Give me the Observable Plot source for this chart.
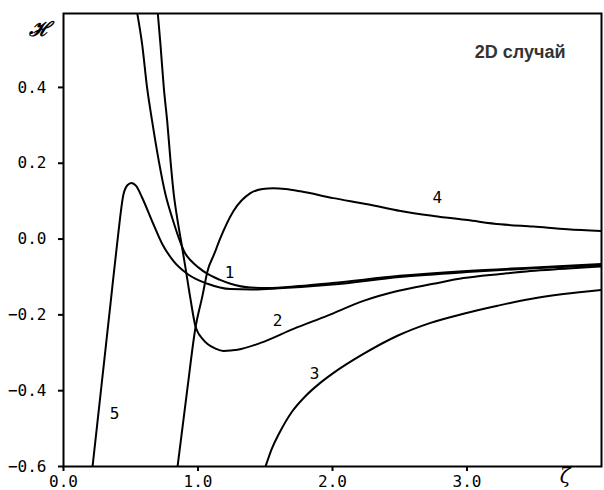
<!DOCTYPE html>
<html><head><meta charset="utf-8">
<script src="https://cdn.jsdelivr.net/npm/d3@7"></script>
<script src="https://cdn.jsdelivr.net/npm/@observablehq/plot@0.6"></script>
<style>body{margin:0;background:#fff}</style>
</head><body><div id="chart"></div>
<script>
// Curve 1
const zeta1 = [0.548,0.585,0.622,0.659,0.709,0.758,0.808,0.857,0.90,0.95,1.0,1.071,1.16,1.242,1.39,1.52,1.75,2.0,2.5,3.0,3.5,4.0];
const h1    = [0.596,0.513,0.398,0.311,0.205,0.118,0.056,0.003,-0.035,-0.058,-0.074,-0.092,-0.107,-0.118,-0.128,-0.129,-0.124,-0.116,-0.097,-0.084,-0.075,-0.066];
// Curve 2
const zeta2 = [0.701,0.721,0.746,0.771,0.796,0.820,0.845,0.870,0.907,0.944,0.981,1.005,1.03,1.071,1.13,1.19,1.294,1.465,1.71,1.963,2.23,2.483,2.75,2.974,3.25,3.472,3.75,4.0];
const h2    = [0.596,0.513,0.398,0.311,0.205,0.118,0.056,0.003,-0.076,-0.158,-0.230,-0.250,-0.262,-0.277,-0.289,-0.295,-0.292,-0.274,-0.237,-0.202,-0.163,-0.137,-0.118,-0.103,-0.092,-0.084,-0.078,-0.072];
// Curve 3
const zeta3 = [1.502,1.55,1.6,1.7,1.8,1.9,2.0,2.23,2.483,2.729,2.974,3.227,3.472,3.717,4.0];
const h3    = [-0.600,-0.552,-0.515,-0.455,-0.414,-0.382,-0.355,-0.303,-0.255,-0.221,-0.197,-0.176,-0.158,-0.145,-0.134];
// Curve 4
const zeta4 = [0.848,0.922,0.981,1.033,1.071,1.12,1.167,1.264,1.39,1.48,1.561,1.65,1.762,2.007,2.26,2.506,2.751,3.004,3.249,3.494,3.747,4.0];
const h4    = [-0.600,-0.392,-0.234,-0.150,-0.084,-0.040,0.003,0.074,0.121,0.132,0.134,0.132,0.126,0.108,0.092,0.074,0.061,0.050,0.039,0.033,0.026,0.021];
// Curve 5
const zeta5 = [0.216,0.25,0.30,0.35,0.401,0.446,0.475,0.505,0.54,0.585,0.659,0.734,0.818,0.922,1.071,1.242,1.40,1.6,2.0,2.5,3.0,3.5,4.0];
const h5    = [-0.600,-0.491,-0.330,-0.169,-0.005,0.118,0.142,0.148,0.140,0.109,0.047,-0.013,-0.058,-0.092,-0.118,-0.132,-0.133,-0.130,-0.120,-0.100,-0.087,-0.077,-0.069];

const curveNames = ["1","2","3","4","5"];
const labelZeta  = [1.234, 1.591, 1.866, 2.78, 0.379];
const labelH     = [-0.089, -0.216, -0.355, 0.108, -0.46];

const xTicks = [0, 1, 2, 3];
const yTicks = [-0.6, -0.4, -0.2, 0, 0.2, 0.4];
const titleText = "2D случай";
const yLabel = "ℋ";
const xLabel = "ζ";

const allZeta = [zeta1, zeta2, zeta3, zeta4, zeta5];
const allH = [h1, h2, h3, h4, h5];
const rows = [];
allZeta.forEach((zs, i) => zs.forEach((z, j) => rows.push({curve: curveNames[i], zeta: z, h: allH[i][j]})));
const labels = curveNames.map((n, i) => ({name: n, zeta: labelZeta[i], h: labelH[i]}));

const mono = "DejaVu Sans Mono";
const fmt = d3.format(".1f");

const chart = Plot.plot({
  width: 604, height: 490,
  marginLeft: 63, marginRight: 3, marginTop: 13, marginBottom: 24,
  style: {fontFamily: mono, fontSize: "16px", background: "#fff", color: "#000"},
  x: {domain: [0, 4]},
  y: {domain: [-0.6, 0.595]},
  marks: [
    Plot.axisX({ticks: xTicks, tickFormat: fmt, tickSize: 5, tickPadding: 4, strokeWidth: 2, label: null, fontSize: 16, fontFamily: mono}),
    Plot.axisY({ticks: yTicks, tickFormat: fmt, tickSize: 5, tickPadding: 12, strokeWidth: 2, label: null, fontSize: 16, fontFamily: mono}),
    Plot.frame({stroke: "#000", strokeWidth: 2}),
    Plot.line(rows, {x: "zeta", y: "h", z: "curve", curve: "monotone-x", stroke: "#000", strokeWidth: 2, clip: true}),
    Plot.text(labels, {x: "zeta", y: "h", text: "name", fontSize: 16, fontFamily: mono, fill: "#000"}),
    Plot.text([titleText], {frameAnchor: "top-right", dx: -36, dy: 32, fontFamily: "Liberation Sans, Arial, sans-serif", fontWeight: "bold", fontSize: 18, fill: "#333"}),
    Plot.text([yLabel], {frameAnchor: "top-left", dx: -35, dy: 8, fontFamily: "DejaVu Serif, serif", fontStyle: "italic", fontWeight: "bold", fontSize: 20, fill: "#000"}),
    Plot.text([xLabel], {frameAnchor: "bottom-right", dx: -31, dy: 16, fontFamily: "DejaVu Serif, serif", fontStyle: "italic", fontSize: 20, fill: "#000"})
  ]
});
document.getElementById("chart").appendChild(chart);
</script>
</body></html>
